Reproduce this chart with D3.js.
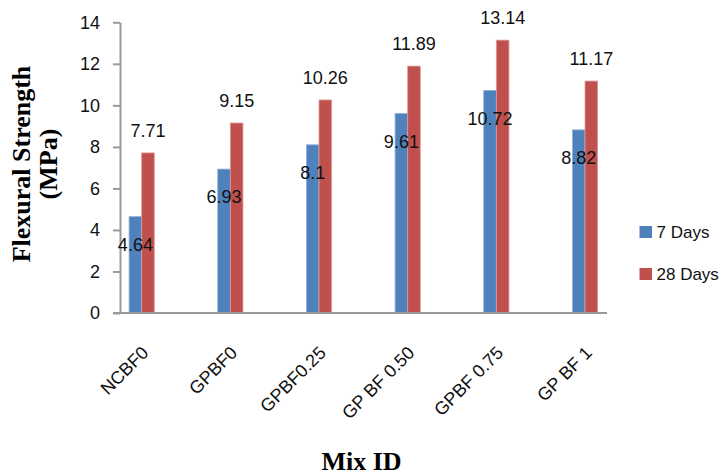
<!DOCTYPE html>
<html>
<head>
<meta charset="utf-8">
<script src="https://cdn.jsdelivr.net/npm/d3@7"></script>
<style>
  html, body { margin: 0; padding: 0; background: #fff; }
  svg { display: block; }
  .lbl { font-family: "Liberation Sans", Arial, sans-serif; font-size: 18px; fill: #111; }
  .leg { font-family: "Liberation Sans", Arial, sans-serif; font-size: 17px; fill: #111; }
  .ttl { font-family: "Liberation Serif", "Times New Roman", serif; font-weight: bold; font-size: 26px; fill: #000; }
</style>
</head>
<body>
<svg id="chart" width="721" height="476"></svg>
<script>
// Flexural strength of each mix after 7 and 28 days of curing
const mixes = ["NCBF0", "GPBF0", "GPBF0.25", "GP BF 0.50", "GPBF 0.75", "GP BF 1"];
const days7 = [4.64, 6.93, 8.1, 9.61, 10.72, 8.82];
const days28 = [7.71, 9.15, 10.26, 11.89, 13.14, 11.17];
const seriesNames = ["7 Days", "28 Days"];
const seriesColors = ["#4F81BD", "#C0504D"];
const seriesEdges = ["#8fb0d8", "#dc9a98"];
const yTicks = [0, 2, 4, 6, 8, 10, 12, 14];

const svg = d3.select("#chart");

const x0 = d3.scaleBand().domain(mixes).range([97.35, 629.35]).paddingInner(0).paddingOuter(0);
const barW = 12.6;
const x1 = d3.scaleBand().domain(seriesNames).range([-barW, barW]);
const y = d3.scaleLinear().domain([0, 14]).range([313, 22.3]);

const rows = mixes.map((m, i) => ({ mix: m, vals: [days7[i], days28[i]] }));

// y axis
const yAxis = svg.append("g")
  .attr("transform", "translate(120,0)")
  .call(d3.axisLeft(y).tickValues(yTicks).tickSizeInner(7).tickSizeOuter(0).tickPadding(13).tickFormat(d3.format("d")));
yAxis.selectAll("path, line").attr("stroke", "#9a9a9a").attr("stroke-width", 2);
yAxis.selectAll("text").attr("class", "lbl").attr("font-size", null).attr("font-family", null).attr("fill", null);

// bars
const groups = svg.append("g").selectAll("g").data(rows).join("g")
  .attr("transform", d => `translate(${x0(d.mix) + x0.bandwidth() / 2},0)`);

groups.selectAll("rect").data(d => d.vals.map((v, k) => ({ v, k })))
  .join("rect")
  .attr("x", d => x1(seriesNames[d.k]))
  .attr("width", x1.bandwidth())
  .attr("y", d => y(d.v))
  .attr("height", d => y(0) - y(d.v))
  .attr("fill", d => seriesColors[d.k])
  .attr("stroke", d => seriesEdges[d.k])
  .attr("stroke-width", 0.8);

// value labels: 7-day values sit inside the bar, 28-day values above it
groups.selectAll("text.val").data(d => d.vals.map((v, k) => ({ v, k })))
  .join("text")
  .attr("class", "lbl val")
  .attr("text-anchor", "middle")
  .attr("x", d => x1(seriesNames[d.k]) + x1.bandwidth() / 2)
  .attr("y", d => d.k === 0 ? y(d.v) + 28 : y(d.v) - 22)
  .attr("dy", "0.35em")
  .text(d => String(d.v));

// x axis line
svg.append("line")
  .attr("x1", 113).attr("x2", 607)
  .attr("y1", y(0)).attr("y2", y(0))
  .attr("stroke", "#9a9a9a").attr("stroke-width", 2);

// category labels, slanted
svg.append("g").selectAll("text").data(mixes).join("text")
  .attr("class", "lbl")
  .attr("text-anchor", "end")
  .attr("transform", d => `translate(${x0(d) + x0.bandwidth() / 2 + 8},354) rotate(-45)`)
  .text(d => d);

// axis titles
svg.append("text").attr("class", "ttl")
  .attr("text-anchor", "middle")
  .attr("font-size", 25)
  .attr("x", 361.5).attr("y", 470)
  .text("Mix ID");

const yTitle = svg.append("text").attr("class", "ttl")
  .attr("text-anchor", "middle")
  .attr("transform", "translate(0,164) rotate(-90)");
yTitle.append("tspan").attr("x", 0).attr("y", 30).text("Flexural Strength");
yTitle.append("tspan").attr("x", 0).attr("y", 56.5).text("(MPa)");

// legend
const legend = svg.append("g").selectAll("g").data(seriesNames).join("g")
  .attr("transform", (d, i) => `translate(639.5,${232 + i * 42})`);
legend.append("rect")
  .attr("x", 0).attr("y", -6).attr("width", 12.5).attr("height", 12)
  .attr("fill", (d, i) => seriesColors[i]);
legend.append("text").attr("class", "leg")
  .attr("x", 17).attr("y", 0).attr("dy", "0.35em")
  .text(d => d);
</script>
</body>
</html>
